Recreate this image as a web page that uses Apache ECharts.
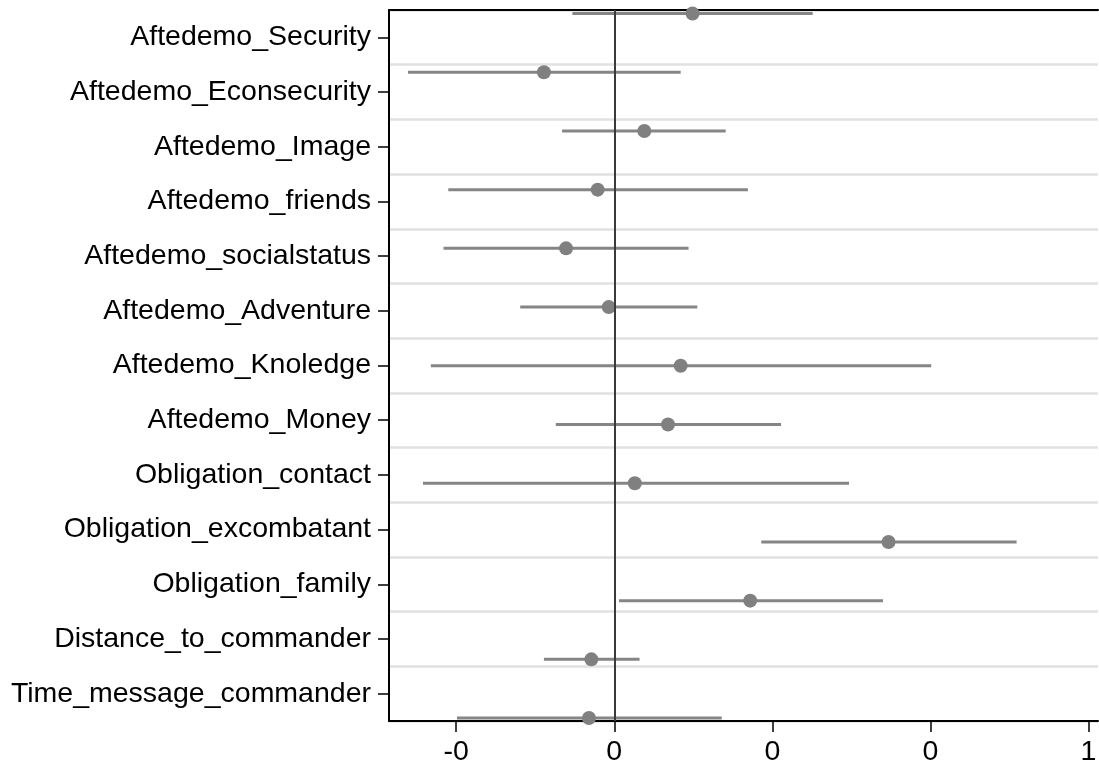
<!DOCTYPE html>
<html>
<head>
<meta charset="utf-8">
<script src="https://cdn.jsdelivr.net/npm/echarts@6/dist/echarts.min.js"></script>
<style>html,body{margin:0;padding:0;background:#fff;}#c{width:1099px;height:765px;}</style>
</head>
<body>
<div id="c"></div>
<script>
const categories = ["Aftedemo_Security","Aftedemo_Econsecurity","Aftedemo_Image","Aftedemo_friends","Aftedemo_socialstatus","Aftedemo_Adventure","Aftedemo_Knoledge","Aftedemo_Money","Obligation_contact","Obligation_excombatant","Obligation_family","Distance_to_commander","Time_message_commander"];
const estimates = [0.099, -0.089, 0.038, -0.021, -0.061, -0.007, 0.084, 0.068, 0.026, 0.347, 0.172, -0.029, -0.032];
const ciLow  = [-0.053, -0.261, -0.066, -0.210, -0.216, -0.119, -0.232, -0.074, -0.242, 0.186, 0.006, -0.089, -0.199];
const ciHigh = [0.251, 0.084, 0.141, 0.169, 0.094, 0.105, 0.401, 0.211, 0.297, 0.509, 0.340, 0.032, 0.136];
const xTickValues = [-0.2, 0, 0.2, 0.4, 0.6];
const xTickLabels = ["-0", "0", "0", "0", "1"];

const FONT = '"Liberation Sans", Arial, Helvetica, sans-serif';
const chart = echarts.init(document.getElementById('c'), null, {renderer: 'canvas'});

function xLabel(v) {
  let best = 0, bd = Infinity;
  xTickValues.forEach((t, i) => { const d = Math.abs(t - v); if (d < bd) { bd = d; best = i; } });
  return xTickLabels[best];
}

const option = {
  animation: false,
  backgroundColor: '#fff',
  grid: {left: 389, top: 10, width: 709, height: 711, containLabel: false, outerBoundsMode: 'none'},
  xAxis: [{
    type: 'value', min: -0.285, max: 0.612, position: 'bottom',
    axisLine: {show: true, onZero: false, lineStyle: {color: '#000', width: 2}},
    axisTick: {show: true, length: 11, lineStyle: {color: '#000', width: 1.5}, customValues: xTickValues},
    axisLabel: {show: true, color: '#000', fontFamily: FONT, fontSize: 28.5, margin: 17, customValues: xTickValues, formatter: xLabel},
    splitLine: {show: false}
  }, {
    type: 'value', min: -0.285, max: 0.612, position: 'top',
    axisLine: {show: true, onZero: false, lineStyle: {color: '#000', width: 2}},
    axisTick: {show: false}, axisLabel: {show: false}, splitLine: {show: false}
  }],
  yAxis: [{
    type: 'category', data: categories, inverse: true, boundaryGap: true, position: 'left',
    axisLine: {show: true, onZero: false, lineStyle: {color: '#000', width: 2}},
    axisTick: {show: true, length: 11, alignWithLabel: true, lineStyle: {color: '#000', width: 1.5}},
    axisLabel: {show: true, color: '#000', fontFamily: FONT, fontSize: 28.5, margin: 18},
    splitLine: {show: true, lineStyle: {color: '#e1e1e1', width: 2.5}}
  }, {
    type: 'value', inverse: true, min: -0.06, max: 12.05, show: false,
    splitLine: {show: false}
  }],
  series: [{
    type: 'custom',
    xAxisIndex: 0, yAxisIndex: 1,
    data: categories.map((c, i) => [ciLow[i], ciHigh[i], i]),
    renderItem: function (params, api) {
      const p1 = api.coord([api.value(0), api.value(2)]);
      const p2 = api.coord([api.value(1), api.value(2)]);
      return {type: 'line', shape: {x1: p1[0], y1: p1[1], x2: p2[0], y2: p2[1]},
              style: {stroke: '#858585', lineWidth: 3}};
    },
    z: 3
  }, {
    type: 'scatter',
    xAxisIndex: 0, yAxisIndex: 1,
    symbol: 'circle', symbolSize: 14,
    itemStyle: {color: '#808080', opacity: 1},
    data: estimates.map((v, i) => [v, i]),
    markLine: {
      silent: true, symbol: 'none', label: {show: false},
      lineStyle: {color: '#3a3a3a', width: 2, type: 'solid'},
      data: [{xAxis: 0}]
    },
    z: 4
  }]
};
chart.setOption(option);
</script>
</body>
</html>
